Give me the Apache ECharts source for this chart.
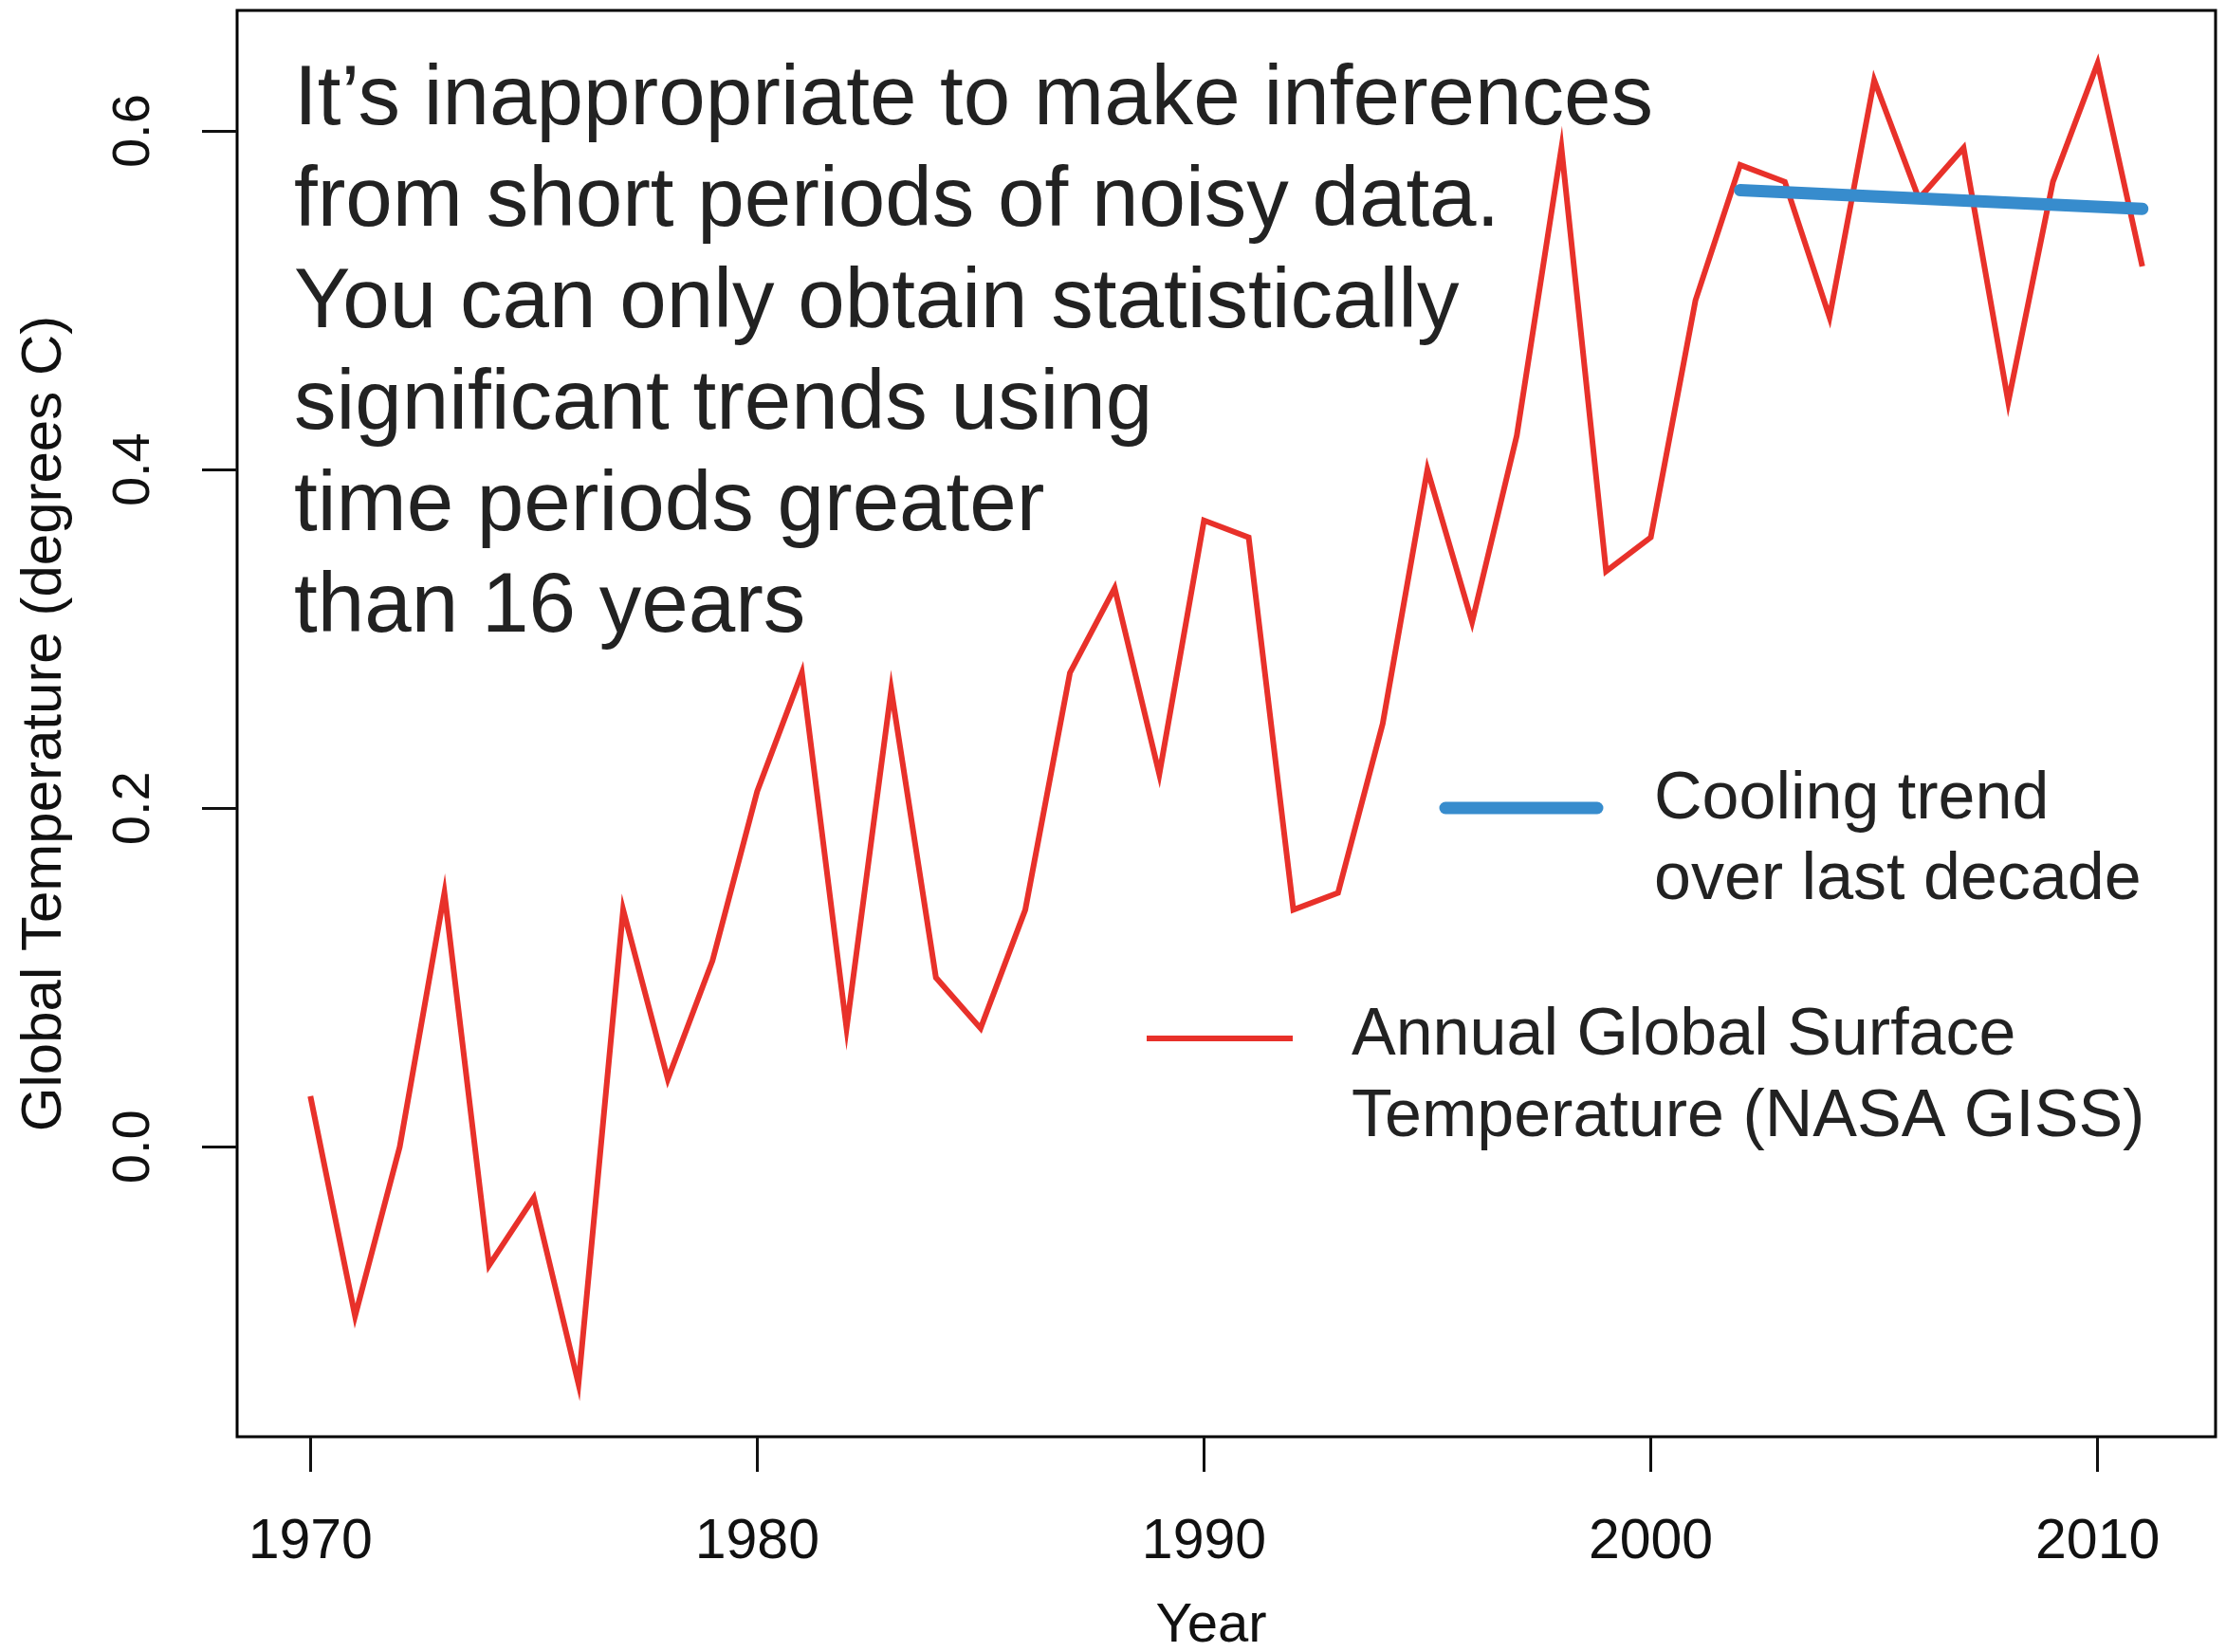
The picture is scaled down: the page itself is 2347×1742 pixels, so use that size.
<!DOCTYPE html>
<html>
<head>
<meta charset="utf-8">
<script src="https://cdn.jsdelivr.net/npm/echarts@6/dist/echarts.min.js"></script>
<style>
html,body{margin:0;padding:0;background:#fff;}
#chart{width:2347px;height:1742px;}
</style>
</head>
<body>
<div id="chart"></div>
<script>
var years = [1970,1971,1972,1973,1974,1975,1976,1977,1978,1979,1980,1981,1982,1983,1984,1985,1986,1987,1988,1989,1990,1991,1992,1993,1994,1995,1996,1997,1998,1999,2000,2001,2002,2003,2004,2005,2006,2007,2008,2009,2010,2011];
var temps = [0.03,-0.10,0.00,0.15,-0.07,-0.03,-0.14,0.14,0.04,0.11,0.21,0.28,0.07,0.27,0.10,0.07,0.14,0.28,0.33,0.22,0.37,0.36,0.14,0.15,0.25,0.40,0.31,0.42,0.59,0.34,0.36,0.50,0.58,0.57,0.49,0.63,0.56,0.59,0.44,0.57,0.64,0.52];
var trendYears = [2002, 2011];
var trendValues = [0.565, 0.554];
var xTicks = [1970,1980,1990,2000,2010];
var yTicks = [0.0,0.2,0.4,0.6];
var annotationLines = [
  "It\u2019s inappropriate to make inferences",
  "from short periods of noisy data.",
  "You can only obtain statistically",
  "significant trends using",
  "time periods greater",
  "than 16 years"
];
var trendLabel = ["Cooling trend", "over last decade"];
var tempLabel = ["Annual Global Surface", "Temperature (NASA GISS)"];

var FONT = '"Liberation Sans", Arial, Helvetica, sans-serif';
var RED = '#e8312a';
var BLUE = '#378ccd';

function zip(a, b){ return a.map(function(v,i){ return [v, b[i]]; }); }

var chart = echarts.init(document.getElementById('chart'), null, {renderer:'canvas'});
chart.setOption({
  backgroundColor: '#fff',
  animation: false,
  textStyle: {fontFamily: FONT},
  grid: {left: 250, top: 11, width: 2086, height: 1504, show: true, borderColor: '#000', borderWidth: 3, backgroundColor: 'transparent', containLabel: false, outerBoundsMode: 'none'},
  xAxis: {
    type: 'value', min: 1968.36, max: 2012.64,
    name: 'Year', nameLocation: 'middle', nameGap: 171,
    nameTextStyle: {fontSize: 58, color: '#111', fontFamily: FONT, padding: [0, 32, 0, 0]},
    axisLine: {show: false, onZero: false},
    axisTick: {show: true, length: 37, lineStyle: {color: '#111', width: 3}, customValues: xTicks},
    axisLabel: {show: true, fontSize: 59, color: '#111', margin: 82, fontFamily: FONT, customValues: xTicks, formatter: function(v){ return String(v); }},
    splitLine: {show: false}
  },
  yAxis: {
    type: 'value', min: -0.1712, max: 0.6712,
    name: 'Global Temperature (degrees C)', nameLocation: 'middle', nameGap: 173,
    nameTextStyle: {fontSize: 60, color: '#111', fontFamily: FONT},
    axisLine: {show: false, onZero: false},
    axisTick: {show: true, length: 37, lineStyle: {color: '#111', width: 3}, customValues: yTicks},
    axisLabel: {show: true, fontSize: 56, color: '#111', margin: 80, rotate: 90, fontFamily: FONT, customValues: yTicks, formatter: function(v){ return v.toFixed(1); }},
    splitLine: {show: false}
  },
  series: [
    {
      name: 'Annual Global Surface Temperature (NASA GISS)',
      type: 'line', data: zip(years, temps), showSymbol: false, symbol: 'none',
      lineStyle: {color: RED, width: 6, join: 'miter'}, z: 2
    },
    {
      name: 'Cooling trend over last decade',
      type: 'line', data: zip(trendYears, trendValues), showSymbol: false, symbol: 'none',
      lineStyle: {color: BLUE, width: 13, cap: 'round'}, z: 3
    }
  ],
  graphic: [
    {type: 'text', left: 310, top: 53, z: 10, style: {text: annotationLines.join('\n'), font: '89px ' + FONT, lineHeight: 107, fill: '#222'}},
    {type: 'line', z: 10, shape: {x1: 1524, y1: 852, x2: 1684, y2: 852}, style: {stroke: BLUE, lineWidth: 13, lineCap: 'round'}},
    {type: 'text', left: 1744, top: 801, z: 10, style: {text: trendLabel.join('\n'), font: '70px ' + FONT, lineHeight: 85, fill: '#222'}},
    {type: 'line', z: 10, shape: {x1: 1209, y1: 1095, x2: 1363, y2: 1095}, style: {stroke: RED, lineWidth: 6}},
    {type: 'text', left: 1425, top: 1050, z: 10, style: {text: tempLabel.join('\n'), font: '70px ' + FONT, lineHeight: 86, fill: '#222'}}
  ]
});
</script>
</body>
</html>
